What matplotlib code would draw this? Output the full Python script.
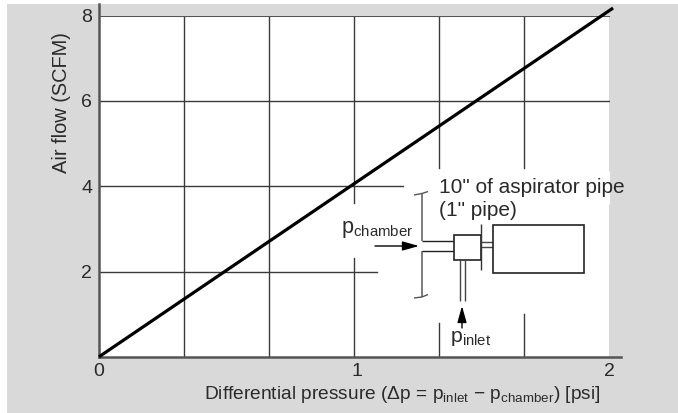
import matplotlib
matplotlib.use("Agg")
import matplotlib.pyplot as plt
from matplotlib.patches import Rectangle
from matplotlib.transforms import ScaledTranslation

W, H = 678, 413
plt.rcParams['font.family'] = ['Liberation Sans', 'DejaVu Sans']
plt.rcParams['mathtext.fontset'] = 'custom'
plt.rcParams['mathtext.rm'] = 'Liberation Sans'
plt.rcParams['mathtext.default'] = 'regular'

flow_x = [0, 2.014]
flow_y = [0, 8.18]
x_grid = [1/3, 2/3, 1, 4/3, 5/3, 2]
y_grid = [2, 4, 6, 8]
x_ticks = [0, 1, 2]
x_ticklabels = ['0', '1', '2']
y_ticks = [2, 4, 6, 8]
y_ticklabels = ['2', '4', '6', '8']

GRAY = '#d9d9d9'
LINE = '#3a3a3a'
SPINE = '#555555'
TEXT = '#2a2a2a'

fig = plt.figure(figsize=(W/100, H/100), dpi=100, facecolor='white')
fig.patches.append(Rectangle((7/W, 0), 1-7/W, 1-4/H, transform=fig.transFigure,
                             facecolor=GRAY, edgecolor='none', zorder=-10))

L, R, T, B = 99, 609.5, 15.7, 356.8
ax = fig.add_axes([L/W, 1-B/H, (R-L)/W, (B-T)/H], facecolor='white')
ax.set_xlim(0, 2)
ax.set_ylim(0, 8)
for s in ax.spines.values():
    s.set_visible(False)
ax.set_xticks(x_ticks, x_ticklabels, fontsize=14, color=TEXT)
ax.set_yticks(y_ticks, y_ticklabels, fontsize=14, color=TEXT)
ax.tick_params(axis='x', length=0, pad=4.5)
ax.tick_params(axis='y', length=0, pad=5)
lab1 = ax.get_xticklabels()[1]
lab1.set_transform(lab1.get_transform() + ScaledTranslation(3/100, 0, fig.dpi_scale_trans))


def px(x, y):
    return (x-L)/(R-L)*2, (B-y)/(B-T)*8


def seg(x0, y0, x1, y1, lw=1.0, c=LINE, z=3):
    a, b = px(x0, y0), px(x1, y1)
    ax.plot([a[0], b[0]], [a[1], b[1]], color=c, lw=lw, clip_on=False, zorder=z,
            solid_capstyle='butt')


# grid, broken where the inset diagram sits (gaps in picture pixels)
x_gaps = {1: (203, 258), 4/3: (168, 323), 5/3: (168, 314), 2: (170, 205)}
y_ends = {2: 377, 4: 403}
for gx in x_grid:
    if gx in x_gaps:
        g0, g1 = x_gaps[gx]
        ax.plot([gx, gx], [px(0, g0)[1], 8], color=LINE, lw=1.0, zorder=1)
        ax.plot([gx, gx], [0, px(0, g1)[1]], color=LINE, lw=1.0, zorder=1)
    else:
        ax.plot([gx, gx], [0, 8], color=LINE, lw=1.0, zorder=1)
for gy in y_grid:
    xe = px(y_ends[gy], 0)[0] if gy in y_ends else 2
    ax.plot([0, xe], [gy, gy], color=SPINE if gy == 8 else LINE,
            lw=1.5 if gy == 8 else 1.0, zorder=1)

# main curve
ax.plot(flow_x, flow_y, color='black', lw=2.3, clip_on=False, zorder=5, solid_capstyle='butt')

# axes
ax.plot([0, 0], [0, px(0, 4)[1]], color=SPINE, lw=1.8, clip_on=False, zorder=4)
ax.plot([0, px(621, 0)[0]], [0, 0], color=SPINE, lw=1.8, clip_on=False, zorder=4)

# inset diagram
seg(422, 193, 422, 240.5, lw=1.2, c='#666666')
seg(422, 250.5, 422, 296.5, lw=1.2, c='#666666')
seg(422, 240.5, 454, 240.5, c='#222222')
seg(422, 250.5, 454, 250.5, c='#222222')
seg(414, 195, 422, 193.5, c='#555555'); seg(422, 193.5, 428, 191.5, c='#555555')
seg(414, 298, 422, 297, c='#555555'); seg(422, 297, 428, 294.5, c='#555555')
ax.add_patch(Rectangle(px(454, 260), 26.5/(R-L)*2, 25/(B-T)*8, fc='white', ec='#222222', lw=1.2,
                       clip_on=False, zorder=3))
seg(481, 224, 481, 270, c='#333333')
seg(481, 241.5, 493, 241.5, c='#444444'); seg(481, 246.5, 493, 246.5, c='#444444')
ax.add_patch(Rectangle(px(493, 273), 91/(R-L)*2, 48/(B-T)*8, fc='white', ec='#222222', lw=1.2,
                       clip_on=False, zorder=3))
seg(460, 260, 460, 301, c='#444444'); seg(465, 260, 465, 301, c='#444444')

kw = dict(arrowstyle='-|>,head_length=1.0,head_width=0.28', mutation_scale=10,
          color='black', lw=1.0, shrinkA=0, shrinkB=0)
ax.annotate('', xy=px(419, 246), xytext=px(375, 246), arrowprops=kw, annotation_clip=False, zorder=6)
ax.annotate('', xy=px(462, 306), xytext=px(462, 328), arrowprops=kw, annotation_clip=False, zorder=6)


def label(x, y, s, fs=13, ha='left', va='baseline', rot=0):
    a = px(x, y)
    ax.text(a[0], a[1], s, fontsize=fs, ha=ha, va=va, rotation=rot, color=TEXT,
            clip_on=False, zorder=7)


label(439, 193, '10" of aspirator pipe', fs=15)
label(439, 216, '(1" pipe)', fs=15)
label(341, 233, r'p$_{chamber}$', fs=15.5)
label(450, 342, r'p$_{inlet}$', fs=15.3)
label(204, 399, r'Differential pressure ($\Delta$p = p$_{inlet}$ $-$ p$_{chamber}$) [psi]', fs=13.8)
label(52, 173, 'Air flow (SCFM)', fs=14.4, rot=90, va='bottom')

fig.savefig('out.png', dpi=100)
